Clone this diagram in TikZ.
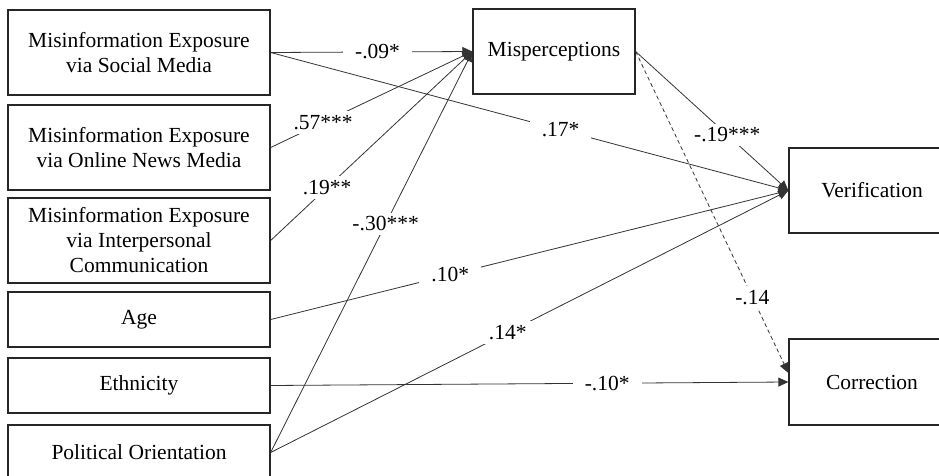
\documentclass[tikz,border=0pt]{standalone}
\usepackage{fontspec}
\setmainfont{Liberation Serif}
\usetikzlibrary{arrows.meta,calc}
\begin{document}
\begin{tikzpicture}[x=1pt,y=-1pt,
  box/.style={draw=black!85, line width=1.3pt, inner sep=0pt, align=center, font=\fontsize{21.5}{25}\selectfont},
  lbox/.style={box, minimum width=262pt},
  conn/.style={draw=black!80, line width=0.8pt, -{Triangle[length=10pt,width=9pt]}},
  lab/.style={fill=white, inner xsep=12pt, inner ysep=4pt, font=\fontsize{21.5}{25}\selectfont}]
\useasboundingbox (0,0) rectangle (939,476);
\clip (0,0) rectangle (939,476);
% left column
\node[lbox, minimum height=85pt] (sm) at (139,52.5) {Misinformation Exposure\\via Social Media};
\node[lbox, minimum height=85pt] (on) at (139,147.5) {Misinformation Exposure\\via Online News Media};
\node[lbox, minimum height=85pt] (ip) at (139,240.5) {Misinformation Exposure\\via Interpersonal\\Communication};
\node[lbox, minimum height=55pt] (age) at (139,319.5) {Age};
\node[lbox, minimum height=55pt] (eth) at (139,385.5) {Ethnicity};
\node[lbox, minimum height=55pt] (pol) at (139,452.5) {Political Orientation};
% middle / right
\node[box, minimum width=162pt, minimum height=85pt] (misp) at (554,51.5) {Misperceptions};
\node[box, minimum width=166pt, minimum height=85pt] (ver) at (872,190.5) {Verification};
\node[box, minimum width=166pt, minimum height=86pt] (cor) at (872,382) {Correction};
% paths to misperceptions
\draw[conn] (sm.east) -- node[lab, pos=0.53] {-.09*} (misp.west);
\draw[conn] (on.east) -- node[lab, pos=0.26] {.57***} (misp.west);
\draw[conn] (ip.east) -- node[lab, pos=0.28] {.19**} (misp.west);
\draw[conn] (pol.east) -- node[lab, pos=0.57, inner xsep=6pt] {-.30***} (misp.west);
% paths to verification
\draw[conn] (sm.east) -- node[lab, pos=0.56] {.17*} (ver.west);
\draw[conn] (age.east) -- node[lab, pos=0.347] {.10*} (ver.west);
\draw[conn] (pol.east) -- node[lab, pos=0.458] {.14*} (ver.west);
\draw[conn] (misp.east) -- node[lab, pos=0.6, inner xsep=6pt] {-.19***} (ver.west);
% paths to correction
\draw[conn] (eth.east) -- node[lab, pos=0.65] {-.10*} (cor.west);
\draw[conn, dash pattern=on 4pt off 3pt] (misp.east) -- node[lab, pos=0.764, inner xsep=4pt] {-.14} ($(cor.west)+(0,-9)$);
\end{tikzpicture}
\end{document}
